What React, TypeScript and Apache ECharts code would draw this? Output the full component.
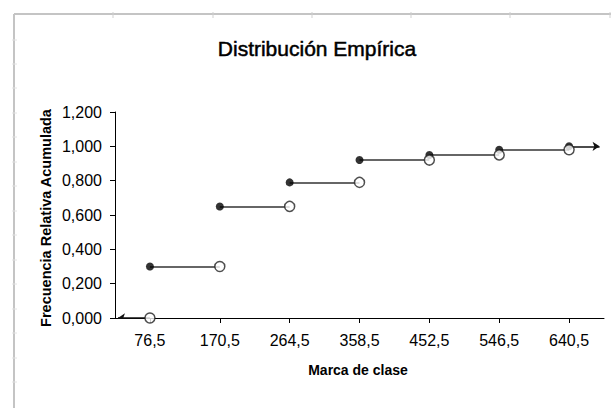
import React, { useEffect, useRef } from "react";
import * as echarts from "echarts";

// Class marks (x) and cumulative relative frequency (y)
const MARKS = [76.5, 170.5, 264.5, 358.5, 452.5, 546.5, 640.5];
const CUM_FREQ = [0.3, 0.65, 0.79, 0.92, 0.95, 0.98, 1.0];
const Y_MAX = 1.2;
const Y_INTERVAL = 0.2;
const X_MIN = 29.5;
const X_MAX = 687.5;

const TITLE = "Distribución Empírica";
const X_TITLE = "Marca de clase";
const Y_TITLE = "Frecuencia Relativa Acumulada";

export default function App() {
  const ref = useRef<HTMLDivElement>(null);

  useEffect(() => {
    if (!ref.current) return;
    const chart = echarts.init(ref.current, null, { renderer: "svg" });

    const steps = MARKS.slice(0, -1).map((x, i) => ({
      coords: [
        [x, CUM_FREQ[i]],
        [MARKS[i + 1], CUM_FREQ[i]],
      ],
    }));
    const arrows = [
      { coords: [[MARKS[0], 0], [X_MIN + 4, 0]] },
      {
        coords: [
          [MARKS[MARKS.length - 1], CUM_FREQ[CUM_FREQ.length - 1]],
          [X_MAX - 6, CUM_FREQ[CUM_FREQ.length - 1]],
        ],
      },
    ];
    const filled = MARKS.map((x, i) => [x, CUM_FREQ[i]]);
    const open = MARKS.map((x, i) => [x, i === 0 ? 0 : CUM_FREQ[i - 1]]);

    const sans = "'Liberation Sans', Arial, sans-serif";

    const rulerTop = [113, 213, 312, 411, 510, 610].map((x) => ({
      type: "line",
      shape: { x1: x, y1: 12, x2: x, y2: 18 },
      style: { stroke: "#cfcfcf", lineWidth: 1 },
    }));
    const rulerLeft = [40, 64, 88, 113, 137, 162, 186, 211, 235, 260, 284, 309, 333, 358, 382].map((y) => ({
      type: "line",
      shape: { x1: 12, y1: y, x2: 17, y2: y },
      style: { stroke: "#e2e2e2", lineWidth: 1 },
    }));

    chart.setOption({
      animation: false,
      backgroundColor: "#ffffff",
      grid: { left: 115, right: 7, top: 112, bottom: 90 },
      xAxis: {
        type: "value",
        min: X_MIN,
        max: X_MAX,
        splitLine: { show: false },
        axisLine: { lineStyle: { color: "#000", width: 1 } },
        axisTick: {
          show: true,
          customValues: MARKS,
          length: 5,
          lineStyle: { color: "#000" },
        },
        axisLabel: {
          customValues: MARKS,
          formatter: (v: number) => String(v).replace(".", ","),
          fontFamily: sans,
          fontSize: 16,
          color: "#000",
          margin: 14,
        },
      },
      yAxis: {
        type: "value",
        min: 0,
        max: Y_MAX,
        interval: Y_INTERVAL,
        splitLine: { show: false },
        axisLine: { show: true, lineStyle: { color: "#000", width: 1 } },
        axisTick: { show: true, length: 5, lineStyle: { color: "#000" } },
        axisLabel: {
          formatter: (v: number) => v.toFixed(3).replace(".", ","),
          fontFamily: sans,
          fontSize: 16,
          color: "#000",
          margin: 13,
        },
      },
      graphic: [
        {
          type: "line",
          shape: { x1: 14, y1: 14, x2: 611, y2: 14 },
          style: { stroke: "#c4c4c4", lineWidth: 2 },
        },
        {
          type: "line",
          shape: { x1: 14, y1: 14, x2: 14, y2: 408 },
          style: { stroke: "#c4c4c4", lineWidth: 2 },
        },
        ...rulerTop,
        ...rulerLeft,
        {
          type: "text",
          x: 317,
          y: 48,
          style: {
            text: TITLE,
            font: `normal 21px ${sans}`,
            fill: "#000",
            stroke: "#000",
            lineWidth: 0.5,
            textAlign: "center",
            textVerticalAlign: "middle",
          },
        },
        {
          type: "text",
          x: 358,
          y: 370,
          style: {
            text: X_TITLE,
            font: `bold 14px ${sans}`,
            fill: "#000",
            textAlign: "center",
            textVerticalAlign: "middle",
          },
        },
        {
          type: "text",
          x: 46,
          y: 218,
          rotation: Math.PI / 2,
          style: {
            text: Y_TITLE,
            font: `bold 14.5px ${sans}`,
            fill: "#000",
            textAlign: "center",
            textVerticalAlign: "middle",
          },
        },
      ],
      series: [
        {
          type: "lines",
          coordinateSystem: "cartesian2d",
          data: steps,
          lineStyle: { color: "#333", width: 1.5, opacity: 1 },
          symbol: "none",
          z: 2,
        },
        {
          type: "lines",
          coordinateSystem: "cartesian2d",
          data: arrows,
          lineStyle: { color: "#111", width: 1.5, opacity: 1 },
          symbol: ["none", "arrow"],
          symbolSize: 7,
          z: 2,
        },
        {
          type: "scatter",
          data: filled,
          symbol: "circle",
          symbolSize: 8,
          itemStyle: { color: "#000" },
          z: 3,
        },
        {
          type: "scatter",
          data: open,
          symbol: "circle",
          symbolSize: 10,
          itemStyle: { color: "#fff", borderColor: "#222", borderWidth: 1.5 },
          z: 4,
        },
      ],
    });

    return () => chart.dispose();
  }, []);

  return (
    <div
      ref={ref}
      style={{ position: "fixed", left: 0, top: 0, width: 611, height: 408 }}
    />
  );
}
